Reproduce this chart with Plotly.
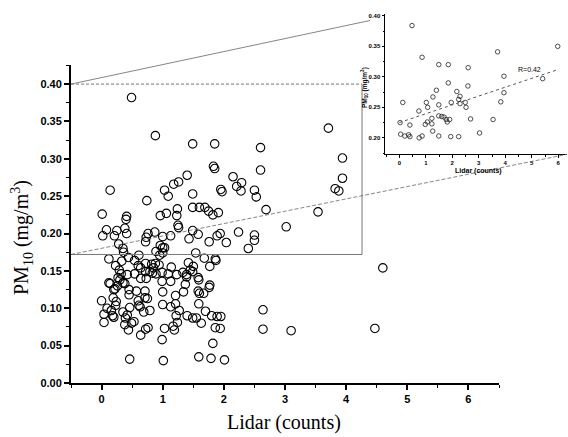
import plotly.graph_objects as go

# ---------------- data ----------------
main_x = [
 0.49,0.88,1.49,1.85,2.60,3.71,3.94,3.94,3.82,3.88,1.83,1.85,2.60,1.40,2.15,2.29,2.21,2.28,1.26,1.18,
 0.14,1.03,1.09,1.49,1.95,1.97,2.50,2.53,0.74,
 1.24,1.23,1.49,1.60,1.69,1.75,1.82,1.91,0.96,1.06,0.01,0.41,0.40,1.25,1.26,2.69,3.54,3.02,0.08,0.02,
 0.21,0.25,0.38,0.41,0.76,0.87,1.13,1.49,1.58,1.43,1.76,1.89,1.94,2.04,2.24,2.50,2.50,1.00,0.73,0.72,
 2.40,0.28,0.35,0.36,0.96,1.00,1.03,0.89,1.54,1.68,1.86,1.87,1.77,0.44,0.12,0.61,0.23,0.33,0.54,0.60,
 0.72,0.82,0.88,0.94,0.95,1.00,0.64,1.14,1.42,1.50,4.60,0.85,
 0.72,0.79,0.54,0.89,0.99,1.09,1.23,1.33,1.45,1.49,0.32,0.29,0.42,0.83,1.39,
 0.99,1.13,1.39,1.58,0.27,0.64,0.73,0.30,0.35,0.38,0.12,0.14,1.59,1.37,1.77,1.76,0.26,0.20,0.22,
 0.45,0.45,0.57,0.71,0.71,0.75,1.00,1.21,1.34,1.58,1.67,1.60,
 0.60,0.61,0.19,0.23,0.24,0.00,0.09,0.46,1.00,1.13,1.21,1.59,0.63,
 0.04,0.04,0.18,0.20,0.35,0.16,0.42,0.39,0.44,0.53,0.49,0.38,0.64,0.69,0.79,0.72,0.76,0.99,1.03,1.17,
 1.19,1.22,1.24,1.27,1.40,1.49,1.55,1.63,1.70,1.80,1.89,1.95,1.82,1.86,1.94,2.64,2.64,3.10,4.47,
 0.46,1.01,1.59,1.79,2.01]
main_y = [
 0.382,0.331,0.320,0.320,0.315,0.341,0.301,0.274,0.260,0.257,0.290,0.287,0.285,0.278,0.276,0.268,0.263,0.257,0.269,0.266,
 0.258,0.258,0.250,0.253,0.259,0.256,0.258,0.249,0.244,
 0.233,0.224,0.235,0.235,0.235,0.230,0.225,0.228,0.224,0.227,0.226,0.223,0.219,0.211,0.208,0.232,0.229,0.209,0.205,0.197,
 0.197,0.204,0.207,0.200,0.200,0.202,0.197,0.204,0.199,0.193,0.189,0.197,0.200,0.188,0.202,0.198,0.191,0.196,0.195,0.189,
 0.180,0.186,0.180,0.175,0.184,0.181,0.181,0.176,0.174,0.167,0.166,0.164,0.156,0.168,0.166,0.171,0.157,0.163,0.164,0.157,
 0.160,0.159,0.160,0.158,0.171,0.174,0.154,0.155,0.161,0.156,0.154,0.154,
 0.149,0.149,0.146,0.146,0.148,0.146,0.145,0.148,0.151,0.149,0.146,0.151,0.145,0.147,0.145,
 0.136,0.136,0.142,0.141,0.141,0.140,0.140,0.138,0.134,0.133,0.134,0.133,0.138,0.132,0.131,0.128,0.130,0.125,0.126,
 0.125,0.118,0.123,0.123,0.114,0.113,0.122,0.117,0.122,0.123,0.120,0.120,
 0.110,0.104,0.114,0.104,0.109,0.110,0.100,0.101,0.105,0.102,0.106,0.106,0.102,
 0.092,0.081,0.090,0.088,0.095,0.097,0.091,0.087,0.071,0.082,0.080,0.078,0.064,0.095,0.097,0.072,0.074,0.058,0.073,0.076,
 0.071,0.090,0.081,0.097,0.090,0.087,0.087,0.080,0.096,0.090,0.089,0.089,0.053,0.074,0.073,0.098,0.072,0.070,0.073,
 0.032,0.030,0.035,0.033,0.031]

inset_x = [0.48,0.86,1.49,1.85,3.71,5.98,2.60,3.95,5.41,1.85,2.59,1.40,2.17,3.95,2.29,1.27,2.24,3.83,
           0.13,1.02,1.96,2.49,1.07,2.29,2.52,1.49,0.74,1.49,1.60,1.69,1.77,1.81,1.90,1.23,1.23,2.69,
           3.54,0.03,0.40,1.06,0.98,1.26,3.03,0.05,0.21,0.35,0.40,0.75,0.86,1.49,1.94,2.24]
inset_y = [0.384,0.332,0.320,0.320,0.341,0.350,0.315,0.301,0.297,0.290,0.285,0.278,0.276,0.274,0.268,0.267,0.263,0.259,
           0.258,0.258,0.258,0.258,0.250,0.256,0.250,0.254,0.244,0.236,0.235,0.234,0.230,0.226,0.230,0.232,0.223,0.231,
           0.230,0.225,0.221,0.226,0.222,0.211,0.208,0.206,0.203,0.205,0.202,0.200,0.203,0.203,0.202,0.202]

fit_x = [0.0, 6.0]
fit_y = [0.225, 0.312]
fit_label = "R=0.42"

main_xrange = [-0.5, 6.5]
main_yrange = [0.0, 0.425]
zoom_box_x = [-0.5, 4.26]
zoom_box_y = [0.172, 0.40]
inset_xrange = [-0.54, 6.33]
inset_yrange = [0.173, 0.403]

# ---------------- geometry ----------------
W, H = 568, 437
ml, mr, mt, mb = 71, 1, 14, 54
pw, ph = W - ml - mr, H - mt - mb

def px2paper(px, py):
    return (px - ml) / pw, (H - mb - py) / ph

xd_main = [0, (499 - ml) / pw]
yd_main = [0, (383 - 65.4) / ph]
xd_in = [(385 - ml) / pw, 1.0]
yd_in = [(383 - 154.3) / ph, 1.0]

def main2paper(x, y):
    fx = (x - main_xrange[0]) / (main_xrange[1] - main_xrange[0])
    fy = (y - main_yrange[0]) / (main_yrange[1] - main_yrange[0])
    return xd_main[0] + fx * (xd_main[1] - xd_main[0]), yd_main[0] + fy * (yd_main[1] - yd_main[0])

fig = go.Figure()
fig.add_trace(go.Scatter(x=main_x, y=main_y, mode="markers",
                         marker=dict(symbol="circle-open", size=8.5, color="black", line=dict(width=1.1)),
                         xaxis="x", yaxis="y", showlegend=False))
fig.add_trace(go.Scatter(x=inset_x, y=inset_y, mode="markers",
                         marker=dict(symbol="circle-open", size=4.5, color="#222", line=dict(width=0.8)),
                         xaxis="x2", yaxis="y2", showlegend=False))
fig.add_trace(go.Scatter(x=fit_x, y=fit_y, mode="lines",
                         line=dict(color="#555", width=1, dash="dot"),
                         xaxis="x2", yaxis="y2", showlegend=False))

tf_main = dict(family="Liberation Sans", size=11, color="black", weight="bold")
tf_in = dict(family="Liberation Sans", size=6, color="black", weight="bold")

common_main = dict(showline=True, linecolor="black", linewidth=2, ticks="outside", ticklen=5,
                   tickwidth=1.5, tickcolor="black", showgrid=False, zeroline=False, tickfont=tf_main)
common_in = dict(showline=True, linecolor="black", linewidth=1, ticks="outside", ticklen=2.5,
                 tickwidth=1, tickcolor="black", showgrid=False, zeroline=False, tickfont=tf_in)

fig.update_layout(
    width=W, height=H, autosize=False,
    margin=dict(l=ml, r=mr, t=mt, b=mb),
    plot_bgcolor="white", paper_bgcolor="white",
    xaxis=dict(domain=xd_main, range=main_xrange, anchor="y", dtick=1, tick0=0,
               minor=dict(ticks="outside", ticklen=3, tickwidth=1, tickcolor="black", dtick=0.5, tick0=0),
               **common_main),
    yaxis=dict(domain=yd_main, range=main_yrange, anchor="x", dtick=0.05, tick0=0, tickformat=".2f",
               minor=dict(ticks="outside", ticklen=3, tickwidth=1, tickcolor="black", dtick=0.025, tick0=0),
               **common_main),
    xaxis2=dict(domain=xd_in, range=inset_xrange, anchor="y2", dtick=1, tick0=0,
                minor=dict(ticks="outside", ticklen=1.5, tickwidth=1, tickcolor="black", dtick=0.5, tick0=0),
                **common_in),
    yaxis2=dict(domain=yd_in, range=inset_yrange, anchor="x2", dtick=0.05, tick0=0, tickformat=".2f",
                minor=dict(ticks="outside", ticklen=1.5, tickwidth=1, tickcolor="black", dtick=0.025, tick0=0),
                **common_in),
)

# zoom rectangle on main axes
grey = "#777"
fig.add_shape(type="line", xref="x", yref="y", x0=zoom_box_x[0], x1=zoom_box_x[1], y0=zoom_box_y[1], y1=zoom_box_y[1],
              line=dict(color=grey, width=1, dash="3px,2px"))
fig.add_shape(type="line", xref="x", yref="y", x0=zoom_box_x[1], x1=zoom_box_x[1], y0=zoom_box_y[0], y1=zoom_box_y[1],
              line=dict(color=grey, width=1))
fig.add_shape(type="line", xref="x", yref="y", x0=zoom_box_x[0], x1=zoom_box_x[1], y0=zoom_box_y[0], y1=zoom_box_y[0],
              line=dict(color=grey, width=1))

# connectors
ux0, uy0 = main2paper(zoom_box_x[0], zoom_box_y[1])
ux1, uy1 = px2paper(370, 20.5)
fig.add_shape(type="line", xref="paper", yref="paper", x0=ux0, y0=uy0, x1=ux1, y1=uy1,
              line=dict(color="#666", width=0.8))
lx0, ly0 = main2paper(zoom_box_x[0], zoom_box_y[0])
fig.add_shape(type="line", xref="paper", yref="paper", x0=lx0, y0=ly0, x1=xd_in[1], y1=yd_in[0],
              line=dict(color="#666", width=0.8, dash="4px,2px"))

# titles as annotations
ax, ay = px2paper(22, 238)
fig.add_annotation(x=ax, y=ay, xref="paper", yref="paper", text="PM<sub>10</sub> (mg/m<sup>3</sup>)",
                   textangle=-90, showarrow=False, xanchor="center", yanchor="middle",
                   font=dict(family="Liberation Serif", size=20, color="black"))
bx, by = px2paper(284, 422)
fig.add_annotation(x=bx, y=by, xref="paper", yref="paper", text="Lidar (counts)",
                   showarrow=False, xanchor="center", yanchor="middle",
                   font=dict(family="Liberation Serif", size=20, color="black"))
cx, cy = px2paper(364, 88)
fig.add_annotation(x=cx, y=cy, xref="paper", yref="paper", text="PM<sub>10</sub> (mg/m<sup>3</sup>)",
                   textangle=-90, showarrow=False, xanchor="center", yanchor="middle",
                   font=dict(family="Liberation Sans", size=6.5, color="black", weight="bold"))
dx, dy = px2paper(478, 171)
fig.add_annotation(x=dx, y=dy, xref="paper", yref="paper", text="Lidar (counts)",
                   showarrow=False, xanchor="center", yanchor="middle",
                   font=dict(family="Liberation Sans", size=7, color="black", weight="bold"))
fig.add_annotation(x=4.9, y=0.312, xref="x2", yref="y2", text=fit_label,
                   showarrow=False, xanchor="center", yanchor="middle",
                   font=dict(family="Liberation Sans", size=7, color="black"))

fig.write_html("out.html")
